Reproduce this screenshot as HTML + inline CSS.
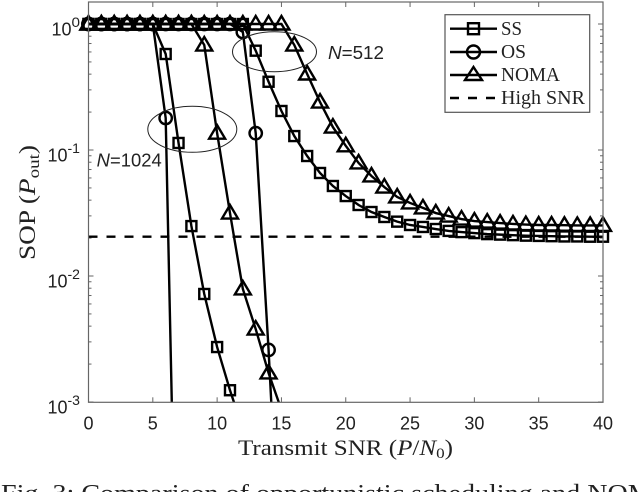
<!DOCTYPE html>
<html lang="en">
<head>
<meta charset="utf-8">
<title>SOP vs Transmit SNR</title>
<style>
html,body{margin:0;padding:0;background:#fff;width:640px;height:492px;overflow:hidden}
svg{display:block}
text{fill:#222}
.sans{font-family:"Liberation Sans",sans-serif}
.serif{font-family:"Liberation Serif",serif}
</style>
</head>
<body>
<svg id="chart" xmlns="http://www.w3.org/2000/svg" width="640" height="492" viewBox="0 0 640 492">
<defs><clipPath id="plot-clip"><rect x="88.5" y="2" width="514.5" height="400.3"/></clipPath></defs>
<rect x="0" y="0" width="640" height="492" fill="#fff"/>
<g id="grid-axes"></g>
<g id="series"></g>
<rect x="88.5" y="2" width="514.5" height="400.3" fill="none" stroke="#666" stroke-width="1.2"/>
<g id="labels"></g>

<ellipse cx="192.3" cy="129.3" rx="44.5" ry="23" fill="none" stroke="#222" stroke-width="1"/>
<ellipse cx="274.5" cy="51.7" rx="42" ry="20" fill="none" stroke="#222" stroke-width="1"/>
<text class="sans" x="96.7" y="166.7" font-size="18" textLength="65" lengthAdjust="spacingAndGlyphs"><tspan font-style="italic">N</tspan>=1024</text>
<text class="sans" x="328" y="59" font-size="18" textLength="56" lengthAdjust="spacingAndGlyphs"><tspan font-style="italic">N</tspan>=512</text>

<text class="serif" transform="translate(35,260) rotate(-90)" font-size="23" textLength="115" lengthAdjust="spacingAndGlyphs">SOP (<tspan font-style="italic">P</tspan><tspan font-size="16" dy="4">out</tspan><tspan dy="-4">)</tspan></text>
<text class="serif" x="238" y="455" font-size="22" textLength="215" lengthAdjust="spacingAndGlyphs">Transmit SNR (<tspan font-style="italic">P</tspan>/<tspan font-style="italic">N</tspan><tspan font-size="15" dy="3">0</tspan><tspan dy="-3">)</tspan></text>
<text class="serif" x="1" y="501" font-size="24" textLength="672" lengthAdjust="spacingAndGlyphs">Fig. 3: Comparison of opportunistic scheduling and NOMA</text>

<g>
<rect x="445" y="14.7" width="144.7" height="97.6" fill="#fff" stroke="#555" stroke-width="1.2"/>
<g>
<line x1="450" x2="497" y1="28.7" y2="28.7" stroke="#000" stroke-width="2.4"/>
<rect x="468" y="23.2" width="11" height="11" fill="none" stroke="#000" stroke-width="2.4"/>
<text class="serif" x="501" y="35" font-size="20" textLength="21" lengthAdjust="spacingAndGlyphs">SS</text>
</g>
<g>
<line x1="450" x2="497" y1="52" y2="52" stroke="#000" stroke-width="2.4"/>
<circle cx="473.5" cy="52" r="6.5" fill="none" stroke="#000" stroke-width="2.4"/>
<text class="serif" x="501" y="58.2" font-size="20" textLength="25" lengthAdjust="spacingAndGlyphs">OS</text>
</g>
<g>
<line x1="450" x2="497" y1="75" y2="75" stroke="#000" stroke-width="2.4"/>
<path d="M473.5 67 L482 80 L465 80 Z" fill="none" stroke="#000" stroke-width="2.4"/>
<text class="serif" x="501" y="81.2" font-size="20" textLength="59" lengthAdjust="spacingAndGlyphs">NOMA</text>
</g>
<g>
<line x1="450" x2="497" y1="98" y2="98" stroke="#000" stroke-width="2.4" stroke-dasharray="9 9"/>
<text class="serif" x="501" y="104.2" font-size="20" textLength="84" lengthAdjust="spacingAndGlyphs">High SNR</text>
</g>
</g>
</svg>
<script>
var xTicks = [0, 5, 10, 15, 20, 25, 30, 35, 40];
var yTicks = [1, 0.1, 0.01, 0.001];
var yTickExponents = ["0", "-1", "-2", "-3"];
var highSnr = [0.0205, 0.0205];
var highSnrX = [0, 40];
var ss512 = [1,1,1,1,1,1,1,1,1,1,1,1,1,0.614,0.348,0.204,0.129,0.0896,0.0657,0.0518,0.0431,0.0366,0.0322,0.0294,0.027,0.0254,0.0245,0.0236,0.0228,0.0223,0.0219,0.0215,0.0213,0.0211,0.0209,0.0208,0.0207,0.0206,0.0206,0.0205,0.0205];
var os512 = [1,1,1,1,1,1,1,1,1,1,1,1,0.864,0.136,0.00259,0.000027];
var noma512 = [1,1,1,1,1,1,1,1,1,1,1,1,1,1,1,1,0.681,0.401,0.24,0.152,0.108,0.0789,0.0622,0.0508,0.0424,0.038,0.0347,0.0316,0.0299,0.0283,0.0273,0.0268,0.0263,0.0259,0.0256,0.0254,0.0254,0.0253,0.0252,0.0252,0.0252];
var ss1024 = [1,1,1,1,1,1,0.578,0.1137,0.0249,0.0072,0.00273,0.00124,0.00061];
var os1024 = [1,1,1,1,1,1,0.1795,0.0000032];
var noma1024 = [1,1,1,1,1,1,1,1,1,0.681,0.136,0.0316,0.00789,0.00379,0.0017,0.000865];

var NS = 'http://www.w3.org/2000/svg';
var L = 88.5, R = 603, T = 24, DEC = 126, B = 402.3, TOP = 2;
function xs(v){ return L + (R - L) * v / 40; }
function ys(v){ return T - DEC * Math.log10(v); }
function mk(parent, tag, attrs){
  var el = document.createElementNS(NS, tag);
  for (var k in attrs) el.setAttribute(k, attrs[k]);
  parent.appendChild(el);
  return el;
}
var axesG = document.getElementById('grid-axes');
var seriesG = document.getElementById('series');
var labelsG = document.getElementById('labels');
var tickStyle = {stroke:'#666', 'stroke-width':1, fill:'none'};
function tick(x1,y1,x2,y2){
  var s = {x1:x1,y1:y1,x2:x2,y2:y2};
  for (var k in tickStyle) s[k] = tickStyle[k];
  var el = mk(axesG,'line',s);
  
  
}
xTicks.forEach(function(v){
  var x = xs(v);
  tick(x,B,x,B-5);
  tick(x,TOP,x,TOP+5);
  var t = mk(labelsG,'text',{x:x,y:429.5,'text-anchor':'middle','font-size':18,'class':'sans'});
  t.textContent = v;
  
  
});
yTicks.forEach(function(v,i){
  var y = ys(v);
  tick(L,y,L+5,y);
  tick(R,y,R-5,y);
  if (i < yTicks.length-1) {
    for (var m = 2; m < 10; m++) {
      var ym = ys(v/10*m);
      tick(L,ym,L+3,ym);
      tick(R,ym,R-3,ym);
    }
  }
  var sup = yTickExponents[i];
  var sw = sup.length > 1 ? 12.5 : 8.5;
  var b = mk(labelsG,'text',{x:80-sw,y:y+11.5,'text-anchor':'end','font-size':18,'class':'sans'});
  b.textContent = '10';
  
  
  var s = mk(labelsG,'text',{x:80-sw,y:y+3,'font-size':14,'class':'sans',textLength:sw,lengthAdjust:'spacingAndGlyphs'});
  s.textContent = sup;
  
  
});
function drawSeries(values, name, marker){
  var g = mk(seriesG,'g',{});
  
  
  var pts = values.map(function(v,i){ return xs(i).toFixed(2)+','+ys(v).toFixed(2); }).join(' ');
  var line = mk(g,'polyline',{points:pts,fill:'none',stroke:'#000','stroke-width':2.4,'clip-path':'url(#plot-clip)'});
  
  
  values.forEach(function(v,i){
    var y = ys(v), x = xs(i), el;
    if (y > B) return;
    var st = {fill:'none',stroke:'#000','stroke-width':2.4};
    if (marker === 'square') { st.x = x-5; st.y = y-5; st.width = 10; st.height = 10; el = mk(g,'rect',st); }
    else if (marker === 'circle') { st.cx = x; st.cy = y; st.r = 6.2; el = mk(g,'circle',st); }
    else { st.d = 'M'+x+' '+(y-8)+' L'+(x+8)+' '+(y+5.5)+' L'+(x-8)+' '+(y+5.5)+' Z'; el = mk(g,'path',st); }
    
    
  });
}
drawSeries(ss1024,'ss-n1024','square');
drawSeries(os1024,'os-n1024','circle');
drawSeries(noma1024,'noma-n1024','triangle');
drawSeries(ss512,'ss-n512','square');
drawSeries(os512,'os-n512','circle');
drawSeries(noma512,'noma-n512','triangle');
var dash = mk(seriesG,'line',{x1:xs(highSnrX[0]),x2:xs(highSnrX[1]),y1:ys(highSnr[0]),y2:ys(highSnr[1]),stroke:'#000','stroke-width':2.4,'stroke-dasharray':'9 9'});


</script>
</body>
</html>
